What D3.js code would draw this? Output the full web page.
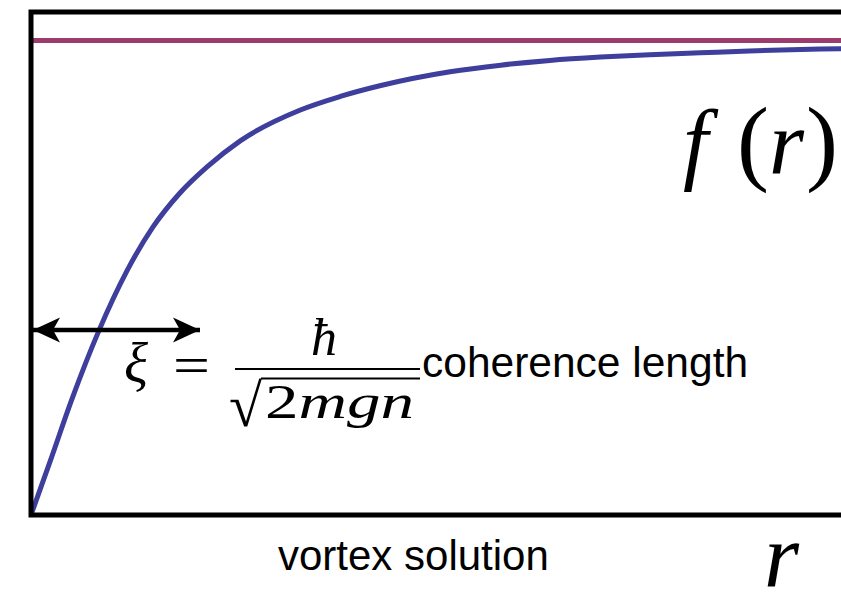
<!DOCTYPE html>
<html>
<head>
<meta charset="utf-8">
<script src="https://cdn.jsdelivr.net/npm/d3@7"></script>
<style>
  html, body { margin: 0; padding: 0; background: #ffffff; }
  svg { display: block; }
</style>
</head>
<body>
<svg id="chart" width="841" height="593"></svg>
<script>
// Vortex amplitude profile f(r), with r measured in units of the coherence length xi
const rValues = [0, 0.12, 0.24, 0.40, 0.57, 0.72, 0.88, 1.04, 1.24, 1.59, 1.83, 2.07, 2.48, 2.78, 3.07, 3.37, 3.66, 3.96, 4.25, 4.67, 4.85];
const fValues = [0, 0.120, 0.242, 0.387, 0.516, 0.606, 0.678, 0.733, 0.789, 0.853, 0.882, 0.905, 0.934, 0.948, 0.958, 0.965, 0.970, 0.974, 0.978, 0.982, 0.983];

// Bulk value the profile heals to far from the core
const bulkR = [0, 5];
const bulkF = [1, 1];

// Double arrow spanning one coherence length
const xiSpan = [0, 1];
const xiLevel = 0.39;

const rDomain = [0, 5];
const fDomain = [0, 1.06];

const svg = d3.select("#chart");
const frame = { left: 31, top: 12, bottom: 515, right: 876 };

const x = d3.scaleLinear().domain(rDomain).range([frame.left, frame.right]);
const y = d3.scaleLinear().domain(fDomain).range([frame.bottom, frame.top]);

const mathFont = "'Liberation Serif', 'DejaVu Serif', serif";
const sansFont = "'Liberation Sans', Arial, Helvetica, sans-serif";

// Bulk level
svg.append("path")
  .datum(d3.zip(bulkR, bulkF))
  .attr("fill", "none")
  .attr("stroke", "#9c3b6e")
  .attr("stroke-width", 5)
  .attr("d", d3.line().x(d => x(d[0])).y(d => y(d[1])));

// Profile curve
svg.append("path")
  .datum(d3.zip(rValues, fValues))
  .attr("fill", "none")
  .attr("stroke", "#3e3e9c")
  .attr("stroke-width", 5)
  .attr("stroke-linejoin", "round")
  .attr("d", d3.line().curve(d3.curveMonotoneX).x(d => x(d[0])).y(d => y(d[1])));

// Frame (open on the right, past the edge of the view)
svg.append("rect")
  .attr("x", frame.left)
  .attr("y", frame.top)
  .attr("width", frame.right - frame.left)
  .attr("height", frame.bottom - frame.top)
  .attr("fill", "none")
  .attr("stroke", "#000")
  .attr("stroke-width", 5);

// Coherence-length arrow
const defs = svg.append("defs");
defs.append("marker")
  .attr("id", "head")
  .attr("viewBox", "0 0 28 28")
  .attr("refX", 27)
  .attr("refY", 14)
  .attr("markerWidth", 28)
  .attr("markerHeight", 28)
  .attr("markerUnits", "userSpaceOnUse")
  .attr("orient", "auto-start-reverse")
  .append("path")
  .attr("d", "M27,14 L0,1.5 L7,14 L0,26.5 Z")
  .attr("fill", "#000");

svg.append("line")
  .attr("x1", x(xiSpan[0]) + 2)
  .attr("x2", x(xiSpan[1]))
  .attr("y1", y(xiLevel))
  .attr("y2", y(xiLevel))
  .attr("stroke", "#000")
  .attr("stroke-width", 4.5)
  .attr("marker-start", "url(#head)")
  .attr("marker-end", "url(#head)");

// xi = hbar / sqrt(2 m g n)
const eq = svg.append("g").attr("fill", "#000").attr("font-family", mathFont);

eq.append("text")
  .attr("x", 124).attr("y", 382)
  .attr("font-size", 56).attr("font-style", "italic")
  .text("ξ");

eq.append("text")
  .attr("x", 173).attr("y", 383)
  .attr("font-size", 52)
  .attr("textLength", 37).attr("lengthAdjust", "spacingAndGlyphs")
  .text("=");

eq.append("line")
  .attr("x1", 235).attr("x2", 420)
  .attr("y1", 369).attr("y2", 369)
  .attr("stroke", "#000").attr("stroke-width", 2);

eq.append("text")
  .attr("x", 311).attr("y", 355)
  .attr("font-size", 52).attr("font-style", "italic")
  .text("ħ");

eq.append("text")
  .attr("x", 229).attr("y", 426)
  .attr("font-size", 60)
  .text("√");

eq.append("line")
  .attr("x1", 261).attr("x2", 420)
  .attr("y1", 378.5).attr("y2", 378.5)
  .attr("stroke", "#000").attr("stroke-width", 2);

const den = eq.append("text")
  .attr("x", 265).attr("y", 418).attr("font-size", 48)
  .attr("textLength", 149).attr("lengthAdjust", "spacingAndGlyphs");
den.append("tspan").text("2");
den.append("tspan").attr("font-style", "italic").text("mgn");

svg.append("text")
  .attr("x", 422).attr("y", 377)
  .attr("font-family", sansFont).attr("font-size", 42.5)
  .attr("fill", "#000")
  .text("coherence length");

// f(r) label
const fr = svg.append("text")
  .attr("y", 173)
  .attr("font-family", mathFont).attr("font-size", 90)
  .attr("fill", "#000");
fr.append("tspan").attr("x", 683).attr("font-style", "italic").text("f");
fr.append("tspan").attr("x", 737).attr("font-size", 96).text("(");
fr.append("tspan").attr("x", 769).attr("font-style", "italic").text("r");
fr.append("tspan").attr("x", 806).attr("font-size", 96).text(")");

// Axis captions
svg.append("text")
  .attr("x", 278).attr("y", 570)
  .attr("font-family", sansFont).attr("font-size", 42)
  .attr("fill", "#000")
  .text("vortex solution");

svg.append("text")
  .attr("x", 764).attr("y", 586)
  .attr("font-family", mathFont).attr("font-size", 90)
  .attr("font-style", "italic")
  .attr("fill", "#000")
  .text("r");
</script>
</body>
</html>
